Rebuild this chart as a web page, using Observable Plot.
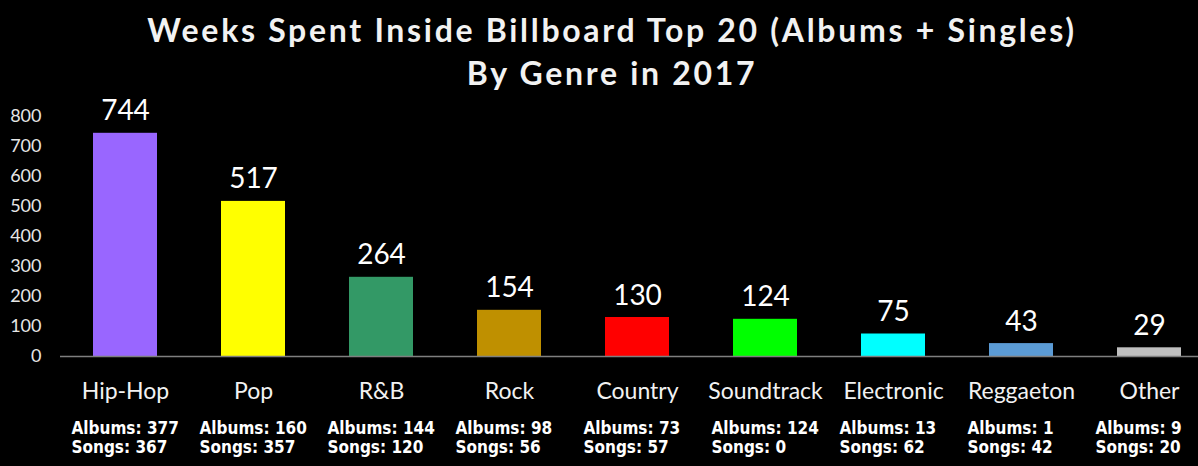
<!DOCTYPE html>
<html>
<head>
<meta charset="utf-8">
<script src="https://cdn.jsdelivr.net/npm/d3@7"></script>
<script src="https://cdn.jsdelivr.net/npm/@observablehq/plot@0.6"></script>
<style>
  html, body { margin: 0; padding: 0; background: #000; }
  #title {
    width: 1198px; height: 94px; box-sizing: border-box;
    padding-top: 8px; padding-left: 26px;
    text-align: center; color: #f2f2f2;
    font-family: Lato, "Open Sans", sans-serif; font-weight: bold;
    font-size: 32px; line-height: 43px; letter-spacing: 2.7px;
  }
  #chart svg { overflow: visible; }
</style>
</head>
<body>
<div id="title">Weeks Spent Inside Billboard Top 20 (Albums + Singles)<br>By Genre in 2017</div>
<div id="chart"></div>
<script>
const genres = ["Hip-Hop", "Pop", "R&B", "Rock", "Country", "Soundtrack", "Electronic", "Reggaeton", "Other"];
const weeks = [744, 517, 264, 154, 130, 124, 75, 43, 29];
const albums = [377, 160, 144, 98, 73, 124, 13, 1, 9];
const songs = [367, 357, 120, 56, 57, 0, 62, 42, 20];
const colors = ["#9966FF", "#FFFF00", "#339966", "#BF9000", "#FF0000", "#00FF00", "#00FFFF", "#5B9BD5", "#BFBFBF"];
const yTicks = [0, 100, 200, 300, 400, 500, 600, 700, 800];

const data = genres.map((g, i) => ({
  genre: g, weeks: weeks[i], albums: albums[i], songs: songs[i], color: colors[i]
}));

const chart = Plot.plot({
  width: 1198,
  height: 372,
  marginTop: 22,
  marginBottom: 110,
  marginLeft: 60,
  marginRight: 0,
  style: { background: "#000", color: "#fff", fontFamily: "Lato, 'Open Sans', sans-serif" },
  x: { domain: genres, range: [61, 1213], paddingInner: 0.5, paddingOuter: 0.25, align: 0.5 },
  y: { domain: [0, 800], ticks: yTicks },
  marks: [
    Plot.barY(data, { x: "genre", y: "weeks", fill: "color" }),
    Plot.ruleY([0], { stroke: "#7f7f7f", strokeWidth: 1.5 }),
    Plot.axisY({ ticks: yTicks, tickSize: 0, tickPadding: 19, fontSize: 18, fill: "#e6e6e6", label: null }),
    Plot.axisX({ tickSize: 0, tickPadding: 26, fontSize: 23, fill: "#f2f2f2", label: null }),
    Plot.text(data, { x: "genre", y: "weeks", text: d => String(d.weeks), lineAnchor: "bottom", dy: -13, fontSize: 28, fill: "#fff" }),
    Plot.text(data, {
      x: "genre", y: () => 0,
      text: d => `Albums: ${d.albums}\nSongs: ${d.songs}`,
      textAnchor: "start", lineAnchor: "top", dx: -54, dy: 64,
      fontSize: 17, fontWeight: "bold", lineHeight: 1.12,
      fontFamily: "'DejaVu Sans Condensed', 'DejaVu Sans', sans-serif", fill: "#fff"
    })
  ]
});
document.getElementById("chart").appendChild(chart);
</script>
</body>
</html>
